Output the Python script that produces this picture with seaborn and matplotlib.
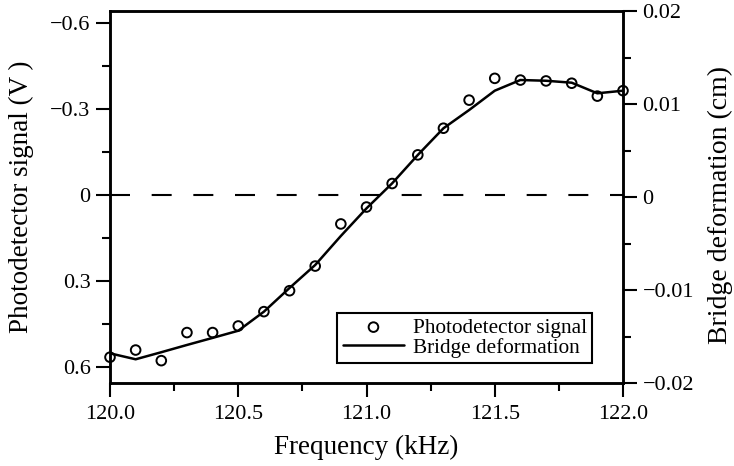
import matplotlib
matplotlib.use("Agg")
import matplotlib.pyplot as plt
from matplotlib.ticker import MultipleLocator, FixedLocator, FixedFormatter
import seaborn as sns
import pandas as pd

freq = [120.0, 120.1, 120.2, 120.3, 120.4, 120.5, 120.6, 120.7, 120.8, 120.9, 121.0,
        121.1, 121.2, 121.3, 121.4, 121.5, 121.6, 121.7, 121.8, 121.9, 122.0]
signal_v = [0.566, 0.541, 0.578, 0.480, 0.480, 0.457, 0.407, 0.334, 0.248, 0.101, 0.042,
            -0.040, -0.140, -0.233, -0.331, -0.407, -0.401, -0.398, -0.390, -0.345, -0.364]
bridge_cm = [-0.01681, -0.01745, -0.01669, -0.01591, -0.01515, -0.01438, -0.01233, -0.00978,
             -0.00731, -0.00419, -0.00122, 0.00147, 0.00452, 0.00739, 0.00935, 0.01143,
             0.01258, 0.01250, 0.01229, 0.01115, 0.01143]

left_ticks = [-0.6, -0.3, 0.0, 0.3, 0.6]
left_labels = ["\u22120.6", "\u22120.3", "0", "0.3", "0.6"]
right_ticks = [-0.02, -0.01, 0.0, 0.01, 0.02]
right_labels = ["\u22120.02", "\u22120.01", "0", "0.01", "0.02"]
x_ticks = [120.0, 120.5, 121.0, 121.5, 122.0]
x_labels = ["120.0", "120.5", "121.0", "121.5", "122.0"]

df = pd.DataFrame({"freq": freq, "signal": signal_v, "bridge": bridge_cm})

sns.set_style("ticks")
plt.rcParams["font.family"] = ["Liberation Serif", "DejaVu Serif"]
plt.rcParams["text.color"] = "black"
plt.rcParams["axes.labelcolor"] = "black"
plt.rcParams["xtick.color"] = "black"
plt.rcParams["ytick.color"] = "black"
plt.rcParams["axes.edgecolor"] = "black"

fig = plt.figure(figsize=(7.34, 4.66), dpi=100)
ax = fig.add_axes([110 / 734, 1 - 383 / 466, 513 / 734, 372 / 466])
ax2 = ax.twinx()

# zero dashed line
ax.axhline(0, color="black", lw=1.5, dashes=(9.6, 10.4), zorder=1)

sns.scatterplot(data=df, x="freq", y="signal", ax=ax, marker="o", s=48,
                facecolor="none", edgecolor="black", linewidth=1.4,
                label="Photodetector signal", zorder=3, legend=False, clip_on=False)
sns.lineplot(data=df, x="freq", y="bridge", ax=ax2, color="black", lw=1.8,
             label="Bridge deformation", legend=False)

ax.set_xlim(120.0, 122.0)
ax.set_ylim(0.656, -0.642)
ax2.set_ylim(-0.02, 0.02)

ax.xaxis.set_major_locator(FixedLocator(x_ticks))
ax.xaxis.set_major_formatter(FixedFormatter(x_labels))
ax.xaxis.set_minor_locator(MultipleLocator(0.25))
ax.yaxis.set_major_locator(FixedLocator(left_ticks))
ax.yaxis.set_major_formatter(FixedFormatter(left_labels))
ax.yaxis.set_minor_locator(MultipleLocator(0.15))
ax2.yaxis.set_major_locator(FixedLocator(right_ticks))
ax2.yaxis.set_major_formatter(FixedFormatter(right_labels))
ax2.yaxis.set_minor_locator(MultipleLocator(0.005))

for a in (ax, ax2):
    for s in a.spines.values():
        s.set_visible(True)
        s.set_linewidth(1.8)
        s.set_color("black")

ax.tick_params(axis="both", which="major", direction="out", length=10, width=1.5,
               labelsize=16, pad=4)
ax.tick_params(axis="x", which="major", pad=6)
ax.tick_params(axis="both", which="minor", direction="out", length=5.5, width=1.5)
ax2.tick_params(axis="y", which="major", direction="out", length=10, width=1.5,
                labelsize=16, pad=4)
ax2.tick_params(axis="y", which="minor", direction="out", length=5.5, width=1.5)

ax.set_xlabel("Frequency (kHz)", fontsize=19.5, labelpad=8)
ax.set_ylabel("Photodetector signal (V )", fontsize=19.5, labelpad=12)
ax2.set_ylabel("Bridge deformation (cm)", fontsize=20, labelpad=10)
ax2.yaxis.label.set_y(0.478)

handles = [ax.collections[0], ax2.lines[0]]
labels = ["Photodetector signal", "Bridge deformation"]
leg = ax.legend(handles, labels, loc="lower right", bbox_to_anchor=(0.94, 0.054),
                borderaxespad=0, fontsize=15.3, frameon=True, fancybox=False,
                handlelength=2.9, handletextpad=0.4, labelspacing=0.0,
                borderpad=0.25, edgecolor="black", framealpha=1)
leg.get_frame().set_linewidth(1.5)

fig.savefig("out.png", dpi=100)
